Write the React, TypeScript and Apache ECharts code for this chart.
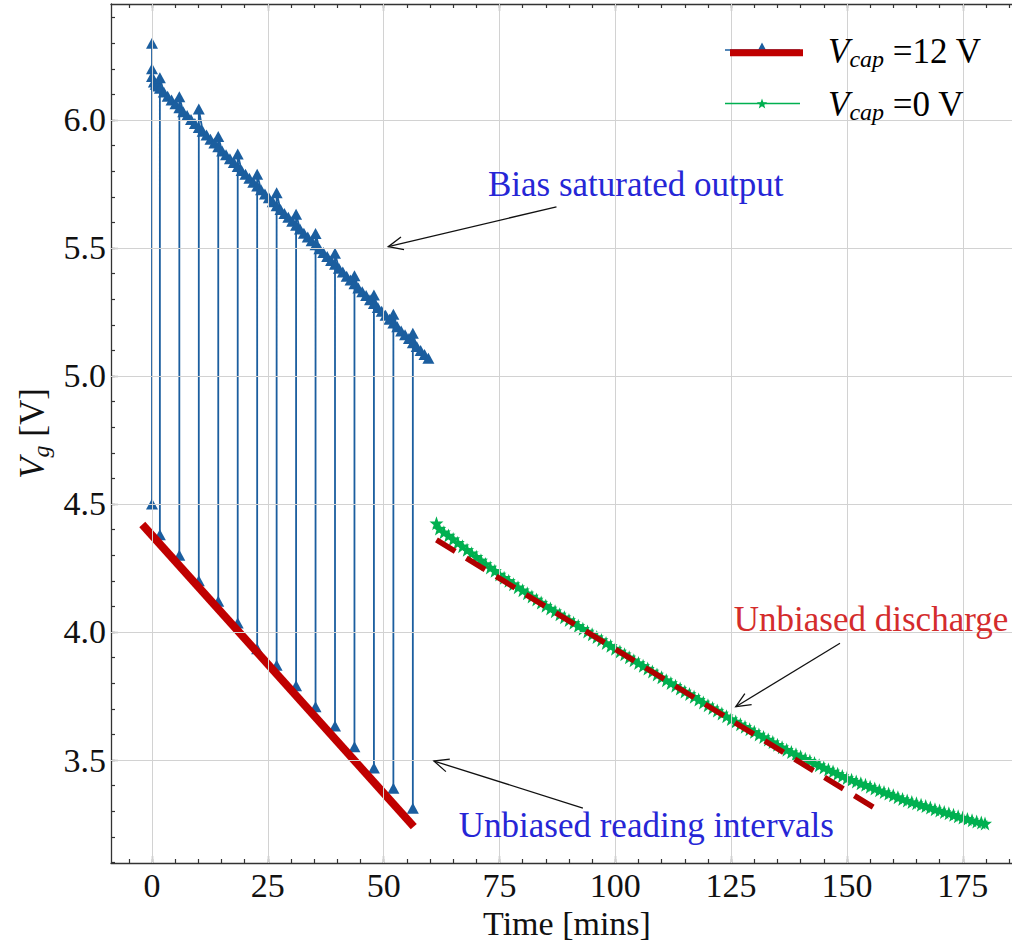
import React, { useEffect, useRef } from "react";
import * as echarts from "echarts";

const SERIF = "'Liberation Serif', 'Times New Roman', serif";

// Axis ranges and ticks
const X_MIN = -8.85;
const X_MAX = 188;
const Y_MIN = 3.0977;
const Y_MAX = 6.453;
const xMajorTicks = [0, 25, 50, 75, 100, 125, 150, 175];
const xMinorTicks = [-5, 0, 5, 10, 15, 20, 25, 30, 35, 40, 45, 50, 55, 60, 65, 70, 75, 80, 85, 90, 95, 100, 105, 110, 115, 120, 125, 130, 135, 140, 145, 150, 155, 160, 165, 170, 175, 180, 185];
const yMajorTicks = [3.5, 4.0, 4.5, 5.0, 5.5, 6.0];
const yMinorTicks = [3.1, 3.2, 3.3, 3.4, 3.5, 3.6, 3.7, 3.8, 3.9, 4.0, 4.1, 4.2, 4.3, 4.4, 4.5, 4.6, 4.7, 4.8, 4.9, 5.0, 5.1, 5.2, 5.3, 5.4, 5.5, 5.6, 5.7, 5.8, 5.9, 6.0, 6.1, 6.2, 6.3, 6.4];

// V_cap = 12 V series (biased with periodic unbiased readings)
const startStack: [number, number][] = [[0, 6.30], [0, 4.50], [0, 6.20], [0, 6.17]];
const readingTimes = [1.7, 5.9, 10.1, 14.3, 18.5, 22.7, 26.9, 31.1, 35.3, 39.5, 43.7, 47.9, 52.1, 56.3];
const readingLows = [4.38, 4.30, 4.20, 4.12, 4.035, 3.935, 3.87, 3.79, 3.708, 3.633, 3.552, 3.469, 3.39, 3.312];
const readingSpikes = [6.165, 6.091, 6.043, 5.935, 5.867, 5.788, 5.716, 5.632, 5.557, 5.479, 5.392, 5.316, 5.241, 5.167];
const biasPoints: [number, number][] = [
  [0.4, 6.148], [0.8, 6.140], [1.2, 6.133],
  [1.7, 6.124], [2.54, 6.109], [3.38, 6.093], [4.22, 6.078], [5.06, 6.063],
  [5.9, 6.048], [6.74, 6.032], [7.58, 6.017], [8.42, 6.002], [9.26, 5.986],
  [10.1, 5.971], [10.94, 5.956], [11.78, 5.941], [12.62, 5.925], [13.46, 5.910],
  [14.3, 5.895], [15.14, 5.879], [15.98, 5.864], [16.82, 5.849], [17.66, 5.834],
  [18.5, 5.818], [19.34, 5.803], [20.18, 5.788], [21.02, 5.772], [21.86, 5.757],
  [22.7, 5.742], [23.54, 5.727], [24.38, 5.711], [25.22, 5.696], [26.06, 5.681],
  [26.9, 5.665], [27.74, 5.650], [28.58, 5.635], [29.42, 5.620], [30.26, 5.604],
  [31.1, 5.589], [31.94, 5.574], [32.78, 5.558], [33.62, 5.543], [34.46, 5.528],
  [35.3, 5.513], [36.14, 5.497], [36.98, 5.482], [37.82, 5.467], [38.66, 5.451],
  [39.5, 5.436], [40.34, 5.421], [41.18, 5.406], [42.02, 5.390], [42.86, 5.375],
  [43.7, 5.360], [44.54, 5.344], [45.38, 5.329], [46.22, 5.314], [47.06, 5.298],
  [47.9, 5.283], [48.74, 5.268], [49.58, 5.253], [50.42, 5.237], [51.26, 5.222],
  [52.1, 5.207], [52.94, 5.192], [53.78, 5.176], [54.62, 5.161], [55.46, 5.146],
  [56.3, 5.130], [57.14, 5.115], [57.98, 5.100], [58.82, 5.084], [59.66, 5.069],
];
const biasFit: [number, number][] = [[-2.1, 4.42], [56.5, 3.24]];

// V_cap = 0 V series (unbiased discharge)
const greenPoints: [number, number][] = [
  [61.4, 4.425], [62, 4.404], [63, 4.390], [64, 4.377], [65, 4.363], [66, 4.349], [67, 4.335], [68, 4.321], [69, 4.308], [70, 4.294],
  [71, 4.280], [72, 4.266], [73, 4.252], [74, 4.239], [75, 4.225], [76, 4.212], [77, 4.200], [78, 4.187], [79, 4.175], [80, 4.163],
  [81, 4.151], [82, 4.139], [83, 4.127], [84, 4.115], [85, 4.103], [86, 4.092], [87, 4.081], [88, 4.069], [89, 4.058], [90, 4.047],
  [91, 4.036], [92, 4.024], [93, 4.013], [94, 4.002], [95, 3.991], [96, 3.980], [97, 3.969], [98, 3.957], [99, 3.946], [100, 3.935],
  [101, 3.924], [102, 3.913], [103, 3.901], [104, 3.890], [105, 3.879], [106, 3.868], [107, 3.857], [108, 3.846], [109, 3.834], [110, 3.823],
  [111, 3.812], [112, 3.801], [113, 3.790], [114, 3.779], [115, 3.768], [116, 3.758], [117, 3.747], [118, 3.736], [119, 3.725], [120, 3.714],
  [121, 3.703], [122, 3.693], [123, 3.682], [124, 3.671], [125, 3.660], [126, 3.650], [127, 3.640], [128, 3.630], [129, 3.620], [130, 3.610],
  [131, 3.600], [132, 3.590], [133, 3.580], [134, 3.570], [135, 3.560], [136, 3.550], [137, 3.540], [138, 3.531], [139, 3.522], [140, 3.514],
  [141, 3.505], [142, 3.497], [143, 3.488], [144, 3.480], [145, 3.471], [146, 3.463], [147, 3.455], [148, 3.446], [149, 3.438], [150, 3.430],
  [151, 3.423], [152, 3.416], [153, 3.409], [154, 3.403], [155, 3.396], [156, 3.389], [157, 3.382], [158, 3.375], [159, 3.369], [160, 3.362],
  [161, 3.355], [162, 3.348], [163, 3.342], [164, 3.336], [165, 3.331], [166, 3.325], [167, 3.320], [168, 3.314], [169, 3.308], [170, 3.303],
  [171, 3.297], [172, 3.292], [173, 3.286], [174, 3.280], [175, 3.275], [176, 3.270], [177, 3.265], [178, 3.260], [179, 3.256], [179.8, 3.252],
];
const unbiasedFit: [number, number][] = [[61.4, 4.36], [157.1, 3.30]];

// Annotations
const annotationTexts = ["Bias saturated output", "Unbiased discharge", "Unbiased reading intervals"];
const annotationTextPos: [number, number][] = [[104.4, 5.748], [155.2, 4.047], [106.7, 3.246]];
const annotationTails: [number, number][] = [[87.3, 5.661], [148.5, 3.956], [93.0, 3.3125]];
const annotationHeads: [number, number][] = [[51.0, 5.505], [126.0, 3.708], [60.85, 3.496]];
const annotationColors = ["#2626d6", "#d42c2c", "#2626d6"];

const BLUE = "#1b5e9f";
const RED = "#c00000";
const DARK_RED = "#b00000";
const GREEN = "#00b050";
const AXIS = "#333333";
const STAR = "path://M0,-10 L2.35,-3.24 L9.51,-3.09 L3.8,1.24 L5.88,8.09 L0,4 L-5.88,8.09 L-3.8,1.24 L-9.51,-3.09 L-2.35,-3.24 Z";

function buildBlue(): [number, number][] {
  const seq: [number, number][] = [...startStack];
  biasPoints.forEach(([t, v]) => {
    seq.push([t, v]);
    const k = readingTimes.indexOf(t);
    if (k >= 0) {
      seq.push([t, readingLows[k]]);
      seq.push([t, readingSpikes[k]]);
    }
  });
  return seq;
}

const richLabel = (size: number, sub: number, pad: number) => ({
  v: { fontFamily: SERIF, fontStyle: "italic", fontSize: size, color: "#111" },
  s: { fontFamily: SERIF, fontStyle: "italic", fontSize: sub, color: "#111", padding: [pad, 0, 0, 0] },
  n: { fontFamily: SERIF, fontSize: size, color: "#111" },
});

function hiddenXAxis(extra: any) {
  return {
    type: "value",
    min: X_MIN,
    max: X_MAX,
    axisLine: { show: false, onZero: false },
    axisLabel: { show: false },
    splitLine: { show: false },
    ...extra,
  };
}

export default function App() {
  const ref = useRef<HTMLDivElement>(null);
  useEffect(() => {
    const chart = echarts.init(ref.current!, null, { renderer: "svg" });
    const tickStyle = { color: AXIS, width: 1.2 };
    const option: any = {
      animation: false,
      backgroundColor: "#ffffff",
      grid: { left: 111, top: 4, right: -11, bottom: 78, containLabel: false, outerBoundsMode: "none" },
      xAxis: [
        {
          type: "value", min: X_MIN, max: X_MAX, position: "bottom",
          axisLine: { show: true, onZero: false, lineStyle: { color: AXIS, width: 1.3 } },
          axisTick: { show: true, inside: true, length: 7, customValues: xMajorTicks, lineStyle: tickStyle },
          axisLabel: { show: true, customValues: xMajorTicks, margin: 5, fontFamily: SERIF, fontSize: 34, color: "#111" },
          splitLine: { show: false },
          name: "Time [mins]", nameLocation: "middle", nameGap: 31,
          nameTextStyle: { fontFamily: SERIF, fontSize: 34, color: "#111" },
        },
        hiddenXAxis({ position: "bottom", axisTick: { show: true, inside: true, length: 4, customValues: xMinorTicks, lineStyle: tickStyle } }),
        {
          type: "value", min: X_MIN, max: X_MAX, position: "top",
          axisLine: { show: true, onZero: false, lineStyle: { color: AXIS, width: 1.3 } },
          axisTick: { show: true, inside: true, length: 7, customValues: xMajorTicks, lineStyle: tickStyle },
          axisLabel: { show: false }, splitLine: { show: false },
        },
        hiddenXAxis({ position: "top", axisTick: { show: true, inside: true, length: 4, customValues: xMinorTicks, lineStyle: tickStyle } }),
      ],
      yAxis: [
        {
          type: "value", min: Y_MIN, max: Y_MAX, position: "left",
          axisLine: { show: true, onZero: false, lineStyle: { color: AXIS, width: 1.3 } },
          axisTick: { show: true, inside: true, length: 7, customValues: yMajorTicks, lineStyle: tickStyle },
          axisLabel: {
            show: true, customValues: yMajorTicks, margin: 5, fontFamily: SERIF, fontSize: 34, color: "#111",
            formatter: (v: number) => v.toFixed(1),
          },
          splitLine: { show: false },
          name: "{v|V}{s|g}{n| [V]}", nameLocation: "middle", nameGap: 50,
          nameTextStyle: { rich: richLabel(35, 24, 16) },
        },
        {
          type: "value", min: Y_MIN, max: Y_MAX, position: "left",
          axisLine: { show: false, onZero: false }, axisLabel: { show: false }, splitLine: { show: false },
          axisTick: { show: true, inside: true, length: 4, customValues: yMinorTicks, lineStyle: tickStyle },
        },
      ],
      series: [
        {
          type: "line", name: "grid", data: [[X_MIN, Y_MIN]], showSymbol: false, symbol: "none",
          lineStyle: { opacity: 0 }, z: 0, silent: true,
          markLine: {
            silent: true, symbol: ["none", "none"], label: { show: false }, animation: false,
            lineStyle: { color: "#d2d2d2", width: 1, type: "solid" },
            emphasis: { disabled: true },
            data: [...xMajorTicks.map((v) => ({ xAxis: v })), ...yMajorTicks.map((v) => ({ yAxis: v }))],
          },
        },
        {
          type: "line", name: "Vcap12", data: buildBlue(), symbol: "triangle", symbolSize: [12, 11],
          showSymbol: true, showAllSymbol: true, z: 3, silent: true,
          lineStyle: { color: BLUE, width: 1.8 }, itemStyle: { color: BLUE },
        },
        {
          type: "line", name: "Vcap12fit", data: biasFit, symbol: "none", z: 4, silent: true,
          lineStyle: { color: RED, width: 8 },
        },
        {
          type: "line", name: "Vcap0", data: greenPoints, symbol: STAR, symbolSize: 14,
          showSymbol: true, showAllSymbol: true, z: 3, silent: true,
          lineStyle: { color: GREEN, width: 1.2 }, itemStyle: { color: GREEN },
        },
        {
          type: "line", name: "Vcap0fit", data: unbiasedFit, symbol: "none", z: 5, silent: true,
          lineStyle: { color: DARK_RED, width: 5.5, type: [22, 13] },
        },
      ],
    };
    chart.setOption(option);

    const px = (p: [number, number]) => chart.convertToPixel({ seriesIndex: 1 }, p) as number[];
    const graphics: any[] = [];

    annotationTexts.forEach((txt, i) => {
      const tp = px(annotationTextPos[i]);
      graphics.push({
        type: "text", x: tp[0], y: tp[1], z: 20, silent: true,
        style: { text: txt, fontFamily: SERIF, fontSize: 35, fill: annotationColors[i], align: "center", verticalAlign: "middle" },
      });
      const a = px(annotationTails[i]);
      const b = px(annotationHeads[i]);
      const dx = a[0] - b[0];
      const dy = a[1] - b[1];
      const len = Math.sqrt(dx * dx + dy * dy);
      const ux = dx / len;
      const uy = dy / len;
      const ang = (24 * Math.PI) / 180;
      const hl = 16;
      const w1 = [b[0] + hl * (ux * Math.cos(ang) - uy * Math.sin(ang)), b[1] + hl * (ux * Math.sin(ang) + uy * Math.cos(ang))];
      const w2 = [b[0] + hl * (ux * Math.cos(-ang) - uy * Math.sin(-ang)), b[1] + hl * (ux * Math.sin(-ang) + uy * Math.cos(-ang))];
      graphics.push({
        type: "line", z: 20, silent: true,
        shape: { x1: a[0], y1: a[1], x2: b[0], y2: b[1] },
        style: { stroke: "#111", lineWidth: 1.3 },
      });
      graphics.push({
        type: "polyline", z: 20, silent: true,
        shape: { points: [w1, b, w2] },
        style: { stroke: "#111", lineWidth: 1.3, fill: null },
      });
    });

    // Legend (drawn manually: combined handle for the first entry)
    const starPts: number[][] = [];
    for (let k = 0; k < 10; k++) {
      const r = k % 2 === 0 ? 5.5 : 2.3;
      const an = -Math.PI / 2 + (k * Math.PI) / 5;
      starPts.push([762 + r * Math.cos(an), 104 + r * Math.sin(an)]);
    }
    graphics.push(
      { type: "line", z: 30, silent: true, shape: { x1: 725, y1: 50, x2: 800, y2: 50 }, style: { stroke: BLUE, lineWidth: 1.5 } },
      { type: "polygon", z: 30, silent: true, shape: { points: [[762, 42.5], [766.5, 51], [757.5, 51]] }, style: { fill: BLUE } },
      { type: "line", z: 31, silent: true, shape: { x1: 730, y1: 52.7, x2: 803, y2: 52.7 }, style: { stroke: RED, lineWidth: 7 } },
      { type: "line", z: 30, silent: true, shape: { x1: 725, y1: 103.5, x2: 800, y2: 103.5 }, style: { stroke: GREEN, lineWidth: 1.5 } },
      { type: "polygon", z: 30, silent: true, shape: { points: starPts }, style: { fill: GREEN } },
      {
        type: "text", z: 30, silent: true, x: 828, y: 51,
        style: { text: "{v|V}{s|cap}{n| =12 V}", rich: richLabel(35, 24, 16), align: "left", verticalAlign: "middle" },
      },
      {
        type: "text", z: 30, silent: true, x: 828, y: 104,
        style: { text: "{v|V}{s|cap}{n| =0 V}", rich: richLabel(35, 24, 16), align: "left", verticalAlign: "middle" },
      }
    );
    chart.setOption({ graphic: graphics });

    return () => chart.dispose();
  }, []);

  return <div ref={ref} style={{ position: "absolute", left: 0, top: 0, width: 1012, height: 941 }} />;
}
